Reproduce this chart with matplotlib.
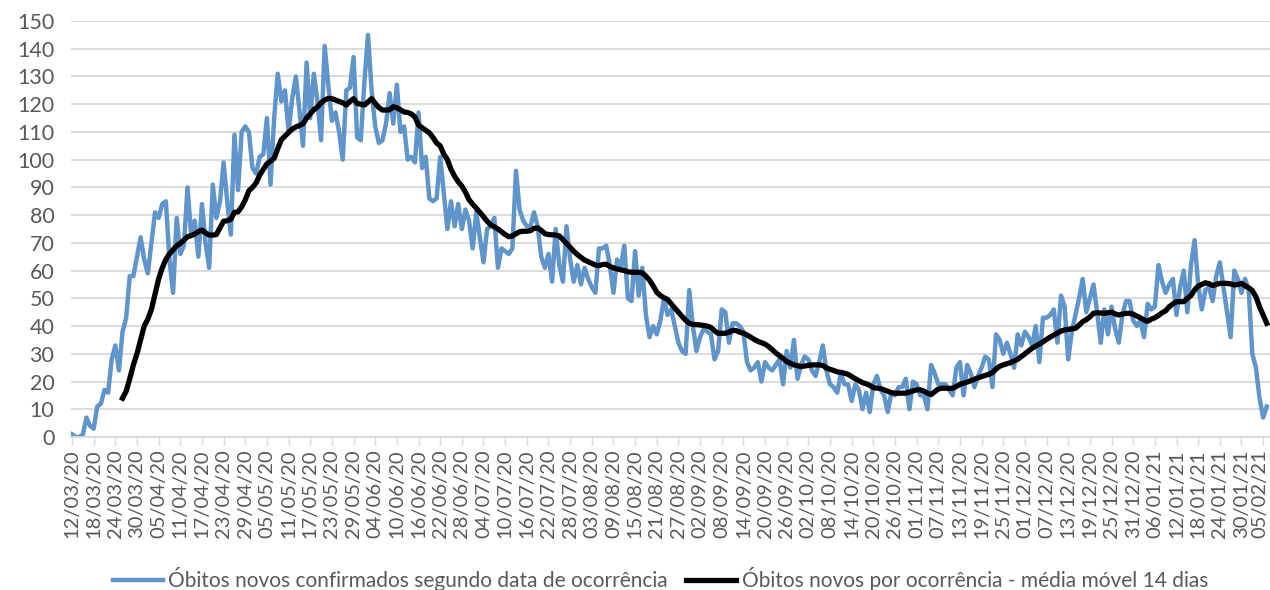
import numpy as np
import pandas as pd
import matplotlib
matplotlib.use("Agg")
import matplotlib.pyplot as plt
import matplotlib.transforms as mtransforms

# óbitos novos por data de ocorrência (a partir de 12/03/2020)
obitos = [
    1, 0, 0, 1, 7, 4, 3, 11, 12, 17,
    16, 28, 33, 24, 38, 43, 58, 58, 65, 72,
    64, 59, 70, 81, 79, 84, 85, 64, 52, 79,
    66, 69, 90, 73, 78, 65, 84, 70, 61, 91,
    79, 85, 99, 85, 73, 109, 89, 110, 112, 110,
    97, 95, 101, 102, 115, 91, 115, 131, 121, 125,
    110, 122, 130, 118, 105, 135, 115, 131, 121, 107,
    141, 127, 114, 117, 110, 100, 125, 126, 137, 108,
    107, 128, 145, 125, 112, 106, 107, 113, 124, 113,
    127, 110, 112, 100, 101, 99, 117, 97, 101, 86,
    85, 86, 101, 88, 75, 85, 76, 84, 75, 82,
    78, 68, 81, 72, 63, 75, 76, 79, 61, 68,
    67, 66, 68, 96, 82, 78, 76, 76, 81, 76,
    65, 61, 66, 56, 75, 62, 56, 76, 64, 56,
    62, 55, 61, 57, 54, 52, 68, 68, 69, 62,
    52, 64, 61, 69, 50, 49, 67, 51, 61, 44,
    36, 40, 37, 42, 50, 44, 46, 40, 34, 31,
    30, 53, 40, 31, 36, 39, 38, 37, 28, 31,
    46, 45, 34, 41, 41, 40, 38, 27, 24, 25,
    27, 20, 27, 25, 24, 26, 28, 19, 31, 25,
    35, 21, 26, 29, 28, 24, 22, 27, 33, 24,
    19, 18, 16, 23, 19, 19, 13, 19, 17, 10,
    16, 9, 19, 22, 17, 15, 9, 16, 15, 18,
    18, 21, 10, 20, 19, 15, 15, 10, 26, 23,
    19, 19, 19, 17, 15, 25, 27, 15, 26, 23,
    18, 22, 25, 29, 28, 18, 37, 35, 30, 34,
    30, 25, 37, 33, 38, 36, 33, 40, 27, 43,
    43, 44, 46, 34, 51, 47, 28, 38, 44, 50,
    57, 45, 50, 55, 45, 34, 46, 37, 47, 39,
    34, 44, 49, 49, 42, 40, 42, 36, 48, 46,
    47, 62, 56, 52, 55, 57, 44, 54, 60, 45,
    62, 71, 55, 46, 53, 54, 49, 58, 63, 54,
    45, 36, 60, 57, 52, 57, 53, 30, 25, 14,
    7, 11,
]

# média móvel de 14 dias (começa no 15º dia, 26/03/2020)
media_inicio = 14
media_movel = [
    14, 16.5, 21, 26, 30, 35, 40, 42.5, 46, 51.5,
    57, 61, 64, 66, 67.5, 69, 69.8, 71, 72.2, 72.6,
    73.2, 74, 74.6, 73.6, 72.8, 72.8, 73, 75.5, 77.8, 78,
    78.5, 81, 81.2, 83, 85.5, 88.8, 90, 91.6, 94.5, 96.5,
    98.5,
    99.5, 100.5, 104, 107.2, 108.5, 109.8, 111, 111.8, 112.3, 113,
    115, 116.5, 118, 119, 120.5, 121.5, 122.1, 122, 121.5, 121,
    120.5, 119.7, 121, 122, 120.3, 120, 119.7, 120.8, 122, 120.3,
    118.8, 117.9, 117.9, 118, 119.1, 118.7, 118, 117.2, 117, 116.5,
    115.4, 112.5, 111.5, 110.6, 109.7, 108, 106, 105, 102, 100,
    96.5, 94, 92, 90.5, 88.3,
    85.5, 84, 82.5, 81, 79.5, 77.8, 76.5, 75.8, 75, 74,
    73, 72.2, 72.5, 73.3, 74, 74.2, 74.2, 74.4, 75.2, 75.4,
    74.5, 73.3, 73, 72.9, 72.8, 72.5, 71.2, 69.8, 68.4, 67,
    65.8, 64.8, 63.8, 63.2, 62.6, 62, 61.8, 62.2, 62.3, 61.5,
    61, 60.6, 60.3, 60, 59.6, 59.4, 59.4, 59.4, 59.2, 58,
    56.5, 54.5, 52.2, 51, 50.2,
    49.6, 48, 46.5, 45, 43.5, 42.1, 41, 40.6, 40.5, 40.4,
    40.2, 40, 39.5, 38.3, 37.4, 37.4, 37.4, 37.8, 38.4, 38.4,
    37.8, 37.4, 36.8, 36, 35.2, 34.5, 34, 33.5, 32.6, 31.5,
    30.3, 29.3, 28.3, 27.2, 26.6, 26, 25.7, 25.4, 25.6, 25.8,
    26, 26, 26, 25.8, 24.9, 24.4, 24, 23.5, 23.3, 23,
    22.6, 21.8, 21, 20.3, 19.6, 19.2,
    18.6, 17.8, 17.6, 17.5, 17, 16.5, 16, 15.8, 15.8, 15.8,
    15.8, 16.2, 16.6, 17, 17, 16.6, 15.8, 15.3, 16.3, 17.3,
    17.6, 17.6, 17.5, 17.6, 18.2, 19, 19.4, 19.8, 20.3, 20.8,
    21.3, 21.8, 22.2, 22.6, 23.2, 24.5, 25.5, 26, 26.4, 26.8,
    27.4, 28, 29, 30, 31, 32, 32.8, 33.5, 34.3, 35.2,
    36, 36.8, 37.5, 38.2, 38.6, 38.8, 39, 39.2, 40.3, 41.6,
    42.3, 43.3, 44.6, 44.8, 44.7, 44.6, 44.8, 45, 44.4, 44,
    44.3, 44.6, 44.6, 44.3, 43.6, 43, 42.2, 41.7, 42.5, 43,
    43.8, 44.8, 45.5, 47, 48, 48.8, 48.8, 48.8, 50, 51,
    53, 54.4, 55, 55.6, 55.3, 54.6, 55, 55.4, 55.4, 55.4,
    55.2, 54.8, 55, 55.4, 54.5, 53.8, 52.8, 50.5, 47, 44,
    41,
]

datas = pd.date_range("2020-03-12", periods=len(obitos), freq="D")
rotulos = datas.strftime("%d/%m/%y")

plt.rcParams['font.family'] = ['Lato', 'DejaVu Sans']
cinza = '#595959'

fig = plt.figure(figsize=(12.7, 5.9), dpi=100)
ax = fig.add_axes([71 / 1270, 153 / 590, 1199 / 1270, 416 / 590])

x = np.arange(len(obitos))
xm = np.arange(media_inicio, media_inicio + len(media_movel))

ax.plot(x, obitos, color='#5f95ca', lw=3.2, solid_joinstyle='round',
        label='Óbitos novos confirmados segundo data de ocorrência')
ax.plot(xm, media_movel, color='black', lw=3.8, solid_joinstyle='round',
        label='Óbitos novos por ocorrência - média móvel 14 dias')

ax.set_xlim(-0.28, 331.9)
ax.set_ylim(0, 150)
ax.set_yticks(range(0, 151, 10))
ax.grid(axis='y', color='#d9d9d9', lw=1.3)
ax.set_axisbelow(True)

ax.set_xticks(x[::6])
ax.set_xticklabels(rotulos[::6], rotation=90, fontsize=14.5, color=cinza)
ax.tick_params(axis='x', length=6, width=1, color='#d9d9d9', pad=3)
ax.tick_params(axis='y', length=0, pad=12, labelsize=15.5, labelcolor=cinza)

# o último rótulo encosta na borda direita: puxa alguns pixels para dentro
ultimo = ax.get_xticklabels()[-1]
ultimo.set_transform(ultimo.get_transform() +
                     mtransforms.ScaledTranslation(-3 / 100, 0, fig.dpi_scale_trans))

for s in ['top', 'right', 'left']:
    ax.spines[s].set_visible(False)
ax.spines['bottom'].set_color('#d9d9d9')
ax.spines['bottom'].set_linewidth(1.3)

fig.legend(loc='center', bbox_to_anchor=(0.52, 0.018), ncol=2, frameon=False,
           fontsize=15, labelcolor=cinza, handlelength=2.4, handletextpad=0.25,
           columnspacing=0.9)

fig.savefig('out.png', dpi=100)
